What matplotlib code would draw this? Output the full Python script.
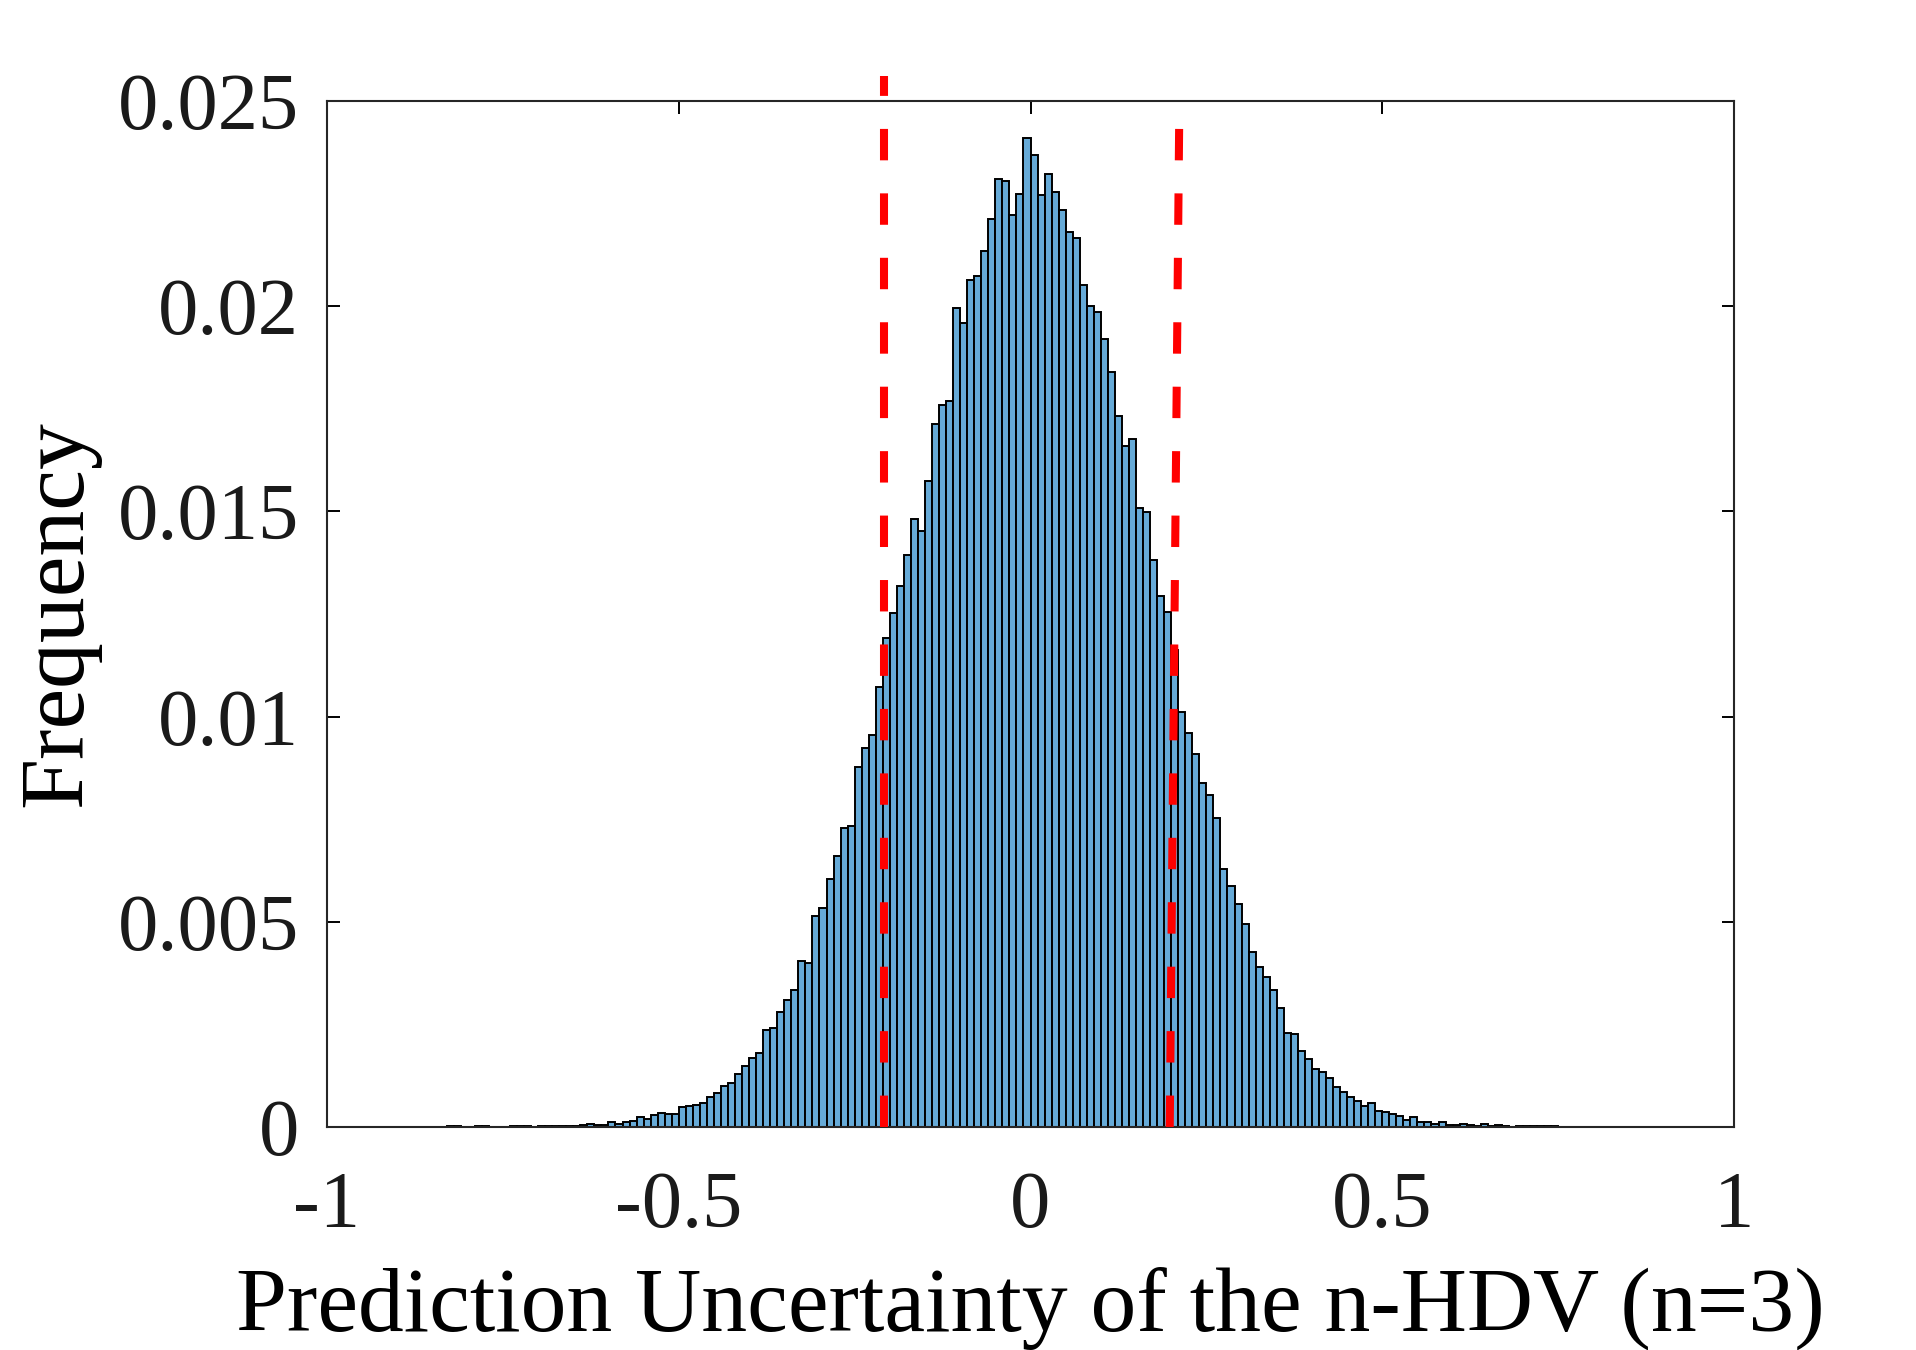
import numpy as np
import matplotlib
matplotlib.use("Agg")
import matplotlib.pyplot as plt

plt.rcParams['font.family'] = ['Liberation Serif', 'DejaVu Serif']
plt.rcParams['axes.unicode_minus'] = False
plt.rcParams['text.color'] = '#1a1a1a'
plt.rcParams['xtick.labelcolor'] = '#1a1a1a'
plt.rcParams['ytick.labelcolor'] = '#1a1a1a'

# Histogram data: bin left edges (in hundredths) and normalized frequencies
bin_index = np.arange(-83, 76)          # bins [k/100, (k+1)/100]
bin_width = 0.01
frequency = [
    # k = -83 .. -65 (far left tail)
    0.00002, 0.00003, 0.00001, 0.00001, 0.00002, 0.00003, 0.00001, 0.00001,
    0.00001, 0.00002, 0.00003, 0.00002, 0.00001, 0.00002, 0.00003, 0.00002,
    0.00002, 0.00003, 0.00003,
    # k = -64 .. -35
    0.00005, 0.00007, 0.00005, 0.00006, 0.00011, 0.00007, 0.00011, 0.00015,
    0.00025, 0.00019, 0.00028, 0.00033, 0.00031, 0.00032, 0.00048, 0.00051,
    0.00054, 0.00058, 0.00074, 0.00084, 0.00100, 0.00106, 0.00129, 0.00149,
    0.00168, 0.00181, 0.00236, 0.00242, 0.00279, 0.00309,
    # k = -34 .. -16
    0.00334, 0.00404, 0.00400, 0.00513, 0.00533, 0.00604, 0.00660, 0.00729,
    0.00733, 0.00877, 0.00923, 0.00955, 0.01073, 0.01192, 0.01253, 0.01317,
    0.01394, 0.01481, 0.01453,
    # k = -15 .. 16
    0.01575, 0.01713, 0.01758, 0.01769, 0.01996, 0.01958, 0.02063, 0.02074,
    0.02135, 0.02213, 0.02309, 0.02306, 0.02221, 0.02274, 0.02409, 0.02368,
    0.02270, 0.02323, 0.02279, 0.02234, 0.02180, 0.02165, 0.02051, 0.02001,
    0.01987, 0.01919, 0.01840, 0.01732, 0.01660, 0.01677, 0.01508, 0.01499,
    # k = 17 .. 34
    0.01382, 0.01295, 0.01255, 0.01162, 0.01012, 0.00959, 0.00909, 0.00837,
    0.00809, 0.00754, 0.00628, 0.00588, 0.00543, 0.00494, 0.00427, 0.00390,
    0.00366, 0.00334,
    # k = 35 .. 64
    0.00290, 0.00228, 0.00227, 0.00185, 0.00165, 0.00142, 0.00134, 0.00119,
    0.00097, 0.00086, 0.00074, 0.00063, 0.00051, 0.00059, 0.00039, 0.00036,
    0.00031, 0.00026, 0.00018, 0.00024, 0.00012, 0.00012, 0.00008, 0.00012,
    0.00005, 0.00005, 0.00008, 0.00005, 0.00003, 0.00007,
    # k = 65 .. 75 (far right tail)
    0.00002, 0.00004, 0.00002, 0.00001, 0.00003, 0.00002, 0.00002, 0.00003,
    0.00002, 0.00002, 0.00001,
]

# Dashed bound lines (data coordinates)
left_bound_x = [-0.2085, -0.2085]
left_bound_y = [0.0, 0.0256]
right_bound_x = [0.1979, 0.2114]
right_bound_y = [0.0, 0.0246]

x_ticks = [-1, -0.5, 0, 0.5, 1]
x_tick_labels = ['-1', '-0.5', '0', '0.5', '1']
y_ticks = [0, 0.005, 0.01, 0.015, 0.02, 0.025]
y_tick_labels = ['0', '0.005', '0.01', '0.015', '0.02', '0.025']

fig = plt.figure(figsize=(19.16, 13.5), dpi=100)
ax = fig.add_axes([0.1707, 0.1652, 0.905 - 0.1707, 0.9252 - 0.1652])

bin_left = bin_index / 100.0
ax.bar(bin_left, frequency, width=bin_width, align='edge',
       color=(0.4, 0.668, 0.845), edgecolor='black', linewidth=1.4, zorder=2)

ax.plot(left_bound_x, left_bound_y, color=(1, 0, 0), linewidth=5.8,
        dashes=(3.9, 4.1), clip_on=False, zorder=3, solid_capstyle='butt',
        dash_capstyle='butt')
ax.plot(right_bound_x, right_bound_y, color=(1, 0, 0), linewidth=5.8,
        dashes=(3.9, 4.1), clip_on=False, zorder=3, solid_capstyle='butt',
        dash_capstyle='butt')

ax.set_xlim(-1, 1)
ax.set_ylim(0, 0.025)
ax.set_xticks(x_ticks)
ax.set_xticklabels(x_tick_labels)
ax.set_yticks(y_ticks)
ax.set_yticklabels(y_tick_labels)

ax.tick_params(direction='in', length=9, width=1.4, top=True, right=True,
               labelsize=58, pad=20)
ax.tick_params(axis='x', pad=32)
for s in ax.spines.values():
    s.set_linewidth(1.5)
    s.set_color('#262626')

ax.set_xlabel('Prediction Uncertainty of the n-HDV (n=3)', fontsize=66,
              labelpad=16)
ax.set_ylabel('Frequency', fontsize=66, labelpad=13)

fig.savefig('out.png', dpi=100)
